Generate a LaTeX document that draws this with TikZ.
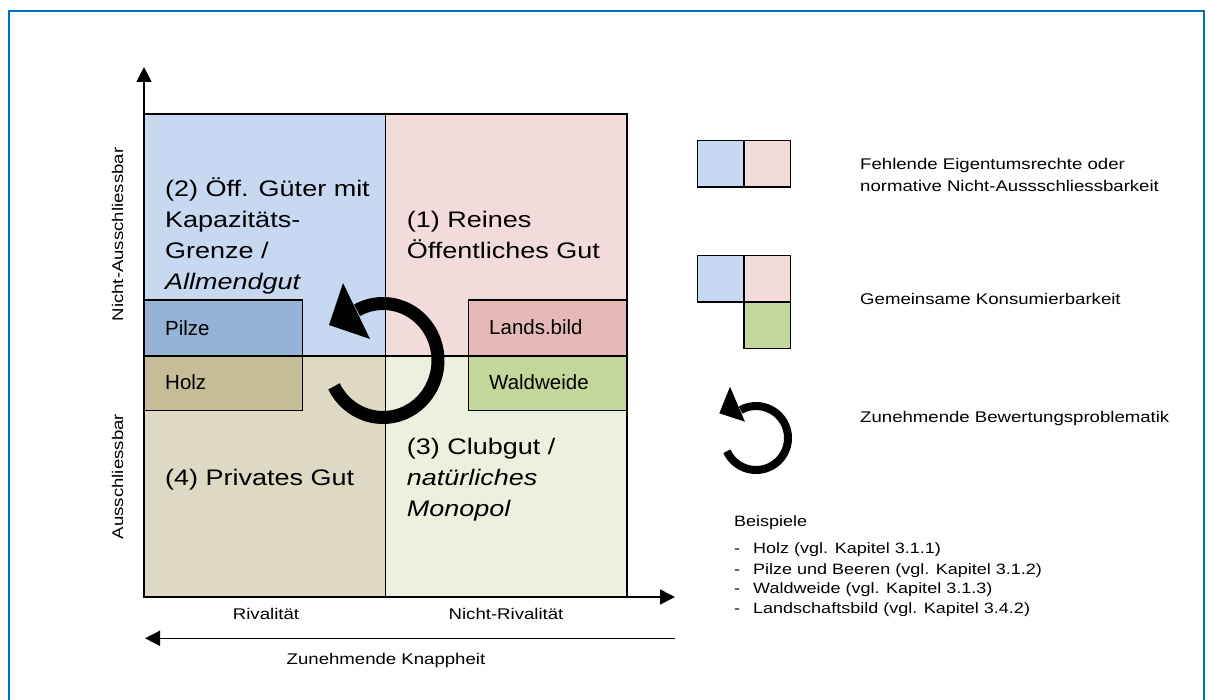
\documentclass[tikz,border=0pt]{standalone}
\usepackage{fontspec}
\setmainfont{Liberation Sans}
\newfontfamily\wfont[FakeStretch=1.2]{Liberation Sans}
\usetikzlibrary{arrows.meta}
\definecolor{qblue}{HTML}{C6D9F1}
\definecolor{qpink}{HTML}{F2DCDB}
\definecolor{qtan}{HTML}{DDD9C3}
\definecolor{qgreen}{HTML}{EBF1DE}
\definecolor{bpilze}{HTML}{95B3D7}
\definecolor{bholz}{HTML}{C4BD97}
\definecolor{blands}{HTML}{E6B9B8}
\definecolor{bwald}{HTML}{C3D69B}
\definecolor{framecol}{HTML}{0070C0}
\begin{document}
\begin{tikzpicture}[x=1pt,y=-1pt,
  box/.style={draw=black, line width=1.6pt},
  axis/.style={line width=1.6pt, -{Triangle[length=15pt,width=15pt]}},
  qtext/.style={font=\wfont\fontsize{22.5}{31}\selectfont, inner sep=0pt, anchor=base west, align=left},
  slabel/.style={font=\fontsize{20.5}{24}\selectfont, inner sep=0pt, anchor=base west},
  alabel/.style={font=\wfont\fontsize{15.5}{19}\selectfont, inner sep=0pt},
  ltext/.style={font=\wfont\fontsize{15.5}{21.6}\selectfont, inner sep=0pt, anchor=base west, align=left},
  btext/.style={font=\wfont\fontsize{15}{20}\selectfont, inner sep=0pt, anchor=base west}]
\useasboundingbox (0,0) rectangle (1208,700);
\clip (0,0) rectangle (1208,700);
\fill[white] (0,0) rectangle (1208,700);
% frame
\draw[framecol, line width=2.5pt] (9,720) -- (9,11) -- (1204,11) -- (1204,720);
% quadrant fills
\fill[qblue]  (144,114) rectangle (385.5,356);
\fill[qpink]  (385.5,114) rectangle (627,356);
\fill[qtan]   (144,356) rectangle (385.5,597);
\fill[qgreen] (385.5,356) rectangle (627,597);
% example box fills
\fill[bpilze] (144,300) rectangle (302.5,356);
\fill[bholz]  (144,356) rectangle (302.5,410.7);
\fill[blands] (468.3,300) rectangle (627,356);
\fill[bwald]  (468.3,356) rectangle (627,410.7);
% borders
\draw[box] (144,114) rectangle (385.5,356);
\draw[box] (385.5,114) rectangle (627,356);
\draw[box] (144,356) rectangle (385.5,597);
\draw[box] (385.5,356) rectangle (627,597);
\draw[box] (144,300) rectangle (302.5,356);
\draw[box] (144,356) rectangle (302.5,410.7);
\draw[box] (468.3,300) rectangle (627,356);
\draw[box] (468.3,356) rectangle (627,410.7);
% axes
\coordinate (o) at (144,597);
\coordinate (ytip) at (144,67);
\coordinate (xtip) at (675,597);
\coordinate (kr) at (675,638.3);
\coordinate (kl) at (145,638.3);
\draw[axis] (o) -- (ytip);
\draw[axis] (o) -- (xtip);
\draw[axis] (kr) -- (kl);
% quadrant texts (anchor = baseline of last line)
\node[qtext] (t2) at (165,289.5) {(2) Öff. Güter mit\\Kapazitäts-\\Grenze /\\\textit{Allmendgut}};
\node[qtext] (t1) at (406.7,258.5) {(1) Reines\\Öffentliches Gut};
\node[qtext] (t4) at (165,485.7) {(4) Privates Gut};
\node[qtext] (t3) at (406.7,516) {(3) Clubgut /\\\textit{natürliches}\\\textit{Monopol}};
% small labels
\node[slabel] (pilze) at (165,335.7) {Pilze};
\node[slabel] (holz) at (165,390) {Holz};
\node[slabel] (lands) at (489,335) {Lands.bild};
\node[slabel] (wald) at (489,390) {Waldweide};
% axis labels
\node[alabel, anchor=base] (riv) at (266,619.5) {Rivalität};
\node[alabel, anchor=base] (nriv) at (506,619.5) {Nicht-Rivalität};
\node[alabel, anchor=base] (knapp) at (386,664) {Zunehmende Knappheit};
\node[alabel, rotate=90] (nau) at (117.5,234.5) {Nicht-Ausschliessbar};
\node[alabel, rotate=90] (au) at (117.5,476.6) {Ausschliessbar};
% big circular arrow
\coordinate (bc) at (383,360.5);
\draw[line width=13pt] (bc) ++(-207:55 and 57) arc[start angle=-207, end angle=-478.2, x radius=55, y radius=57];
\fill (329,325) -- (343,283) -- (370,339) -- cycle;
% legend
\fill[qblue] (697.5,140.4) rectangle (744,186.9);
\fill[qpink] (744,140.4) rectangle (790.4,186.9);
\draw[box] (697.5,140.4) rectangle (744,186.9);
\draw[box] (744,140.4) rectangle (790.4,186.9);
\fill[qblue] (697.5,255.5) rectangle (744,302);
\fill[qpink] (744,255.5) rectangle (790.4,302);
\fill[bwald] (744,302) rectangle (790.4,348.5);
\draw[box] (697.5,255.5) rectangle (744,302);
\draw[box] (744,255.5) rectangle (790.4,302);
\draw[box] (744,302) rectangle (790.4,348.5);
\node[ltext] (l1) at (860,191.6) {Fehlende Eigentumsrechte oder\\normative Nicht-Aussschliessbarkeit};
\node[ltext] (l2) at (860,305) {Gemeinsame Konsumierbarkeit};
\node[ltext] (l3) at (860,423) {Zunehmende Bewertungsproblematik};
% small circular arrow
\coordinate (sc) at (756,438);
\draw[line width=8pt] (sc) ++(-204.5:32 and 32) arc[start angle=-204.5, end angle=-478.8, x radius=32, y radius=32];
\fill (719.3,413.3) -- (730,386.7) -- (745,421.7) -- cycle;
% examples
\node[btext] (bsp) at (734,526) {Beispiele};
\node[btext] (d1) at (734,553.3) {-};
\node[btext] (e1) at (753,553.3) {Holz (vgl. Kapitel 3.1.1)};
\node[btext] (d2) at (734,574.3) {-};
\node[btext] (e2) at (753,574.3) {Pilze und Beeren (vgl. Kapitel 3.1.2)};
\node[btext] (d3) at (734,593.8) {-};
\node[btext] (e3) at (753,593.8) {Waldweide (vgl. Kapitel 3.1.3)};
\node[btext] (d4) at (734,613.3) {-};
\node[btext] (e4) at (753,613.3) {Landschaftsbild (vgl. Kapitel 3.4.2)};
\end{tikzpicture}
\end{document}
